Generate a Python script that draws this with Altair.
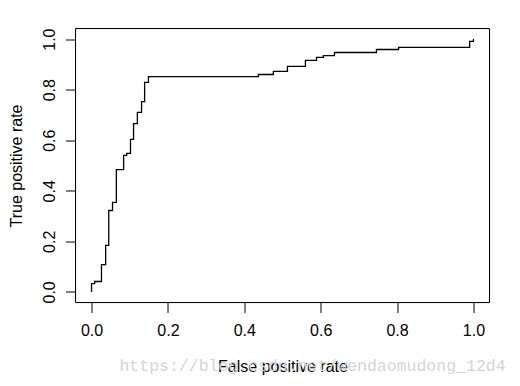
import altair as alt
import pandas as pd

fpr = [0.0, 0.0, 0.008, 0.026, 0.037, 0.045, 0.055, 0.065, 0.084, 0.092, 0.102,
       0.110, 0.120, 0.131, 0.139, 0.149, 0.437, 0.476, 0.513, 0.560, 0.589,
       0.607, 0.636, 0.746, 0.804, 0.990, 1.0]
tpr = [0.0, 0.033, 0.041, 0.108, 0.184, 0.322, 0.354, 0.484, 0.540, 0.548, 0.603,
       0.666, 0.710, 0.753, 0.829, 0.852, 0.860, 0.872, 0.892, 0.916, 0.928,
       0.935, 0.947, 0.959, 0.967, 0.991, 1.0]
ticks = [0.0, 0.2, 0.4, 0.6, 0.8, 1.0]
watermark = ["https://blog.csdn.net/wendaomudong_12d4"]

df = pd.DataFrame({"fpr": fpr, "tpr": tpr, "i": list(range(len(fpr)))})
wm = pd.DataFrame({"t": watermark})
frame = pd.DataFrame({"a": [0]})

FONT = "Liberation Sans"
xs = alt.Scale(domain=[-0.042, 1.042], nice=False, zero=False)
ys = alt.Scale(domain=[-0.042, 1.042], nice=False, zero=False)

line = alt.Chart(df).mark_line(
    interpolate="step-after", color="black", strokeWidth=1.3
).encode(
    x=alt.X("fpr:Q", scale=xs, axis=alt.Axis(
        values=ticks, format=".1f", title="False positive rate", domain=False, grid=False,
        tickSize=10, tickColor="black", tickWidth=1, labelColor="black",
        labelFont=FONT, labelFontSize=16, labelPadding=10, labelFlush=False,
        titleFont=FONT, titleFontSize=16, titleFontWeight="normal", titleColor="black",
        titlePadding=20)),
    y=alt.Y("tpr:Q", scale=ys, axis=alt.Axis(
        values=ticks, format=".1f", title="True positive rate", domain=False, grid=False,
        tickSize=10, tickColor="black", tickWidth=1, labelColor="black",
        labelFont=FONT, labelFontSize=16, labelPadding=8, labelAngle=270,
        labelAlign="center", labelBaseline="bottom", labelFlush=False,
        titleFont=FONT, titleFontSize=16, titleFontWeight="normal", titleColor="black",
        titlePadding=17)),
    order="i:Q",
)

box = alt.Chart(frame).mark_rect(
    fill="white", fillOpacity=0, stroke="black", strokeWidth=1
).encode(x=alt.value(0), x2=alt.value(414), y=alt.value(0), y2=alt.value(274))

mark = alt.Chart(wm).mark_text(
    font="Liberation Mono", fontSize=16.5, color="#d4d4d4", align="center", baseline="middle"
).encode(text="t:N", x=alt.value(237), y=alt.value(337))

chart = alt.layer(mark, box, line).properties(
    width=414, height=274,
    autosize=alt.AutoSizeParams(type="none"),
    padding={"left": 67.5, "top": 20.5, "right": 22, "bottom": 75},
).configure_view(strokeWidth=0).configure(background="white")

chart.save("out.html", embed_options={"renderer": "svg", "actions": False})
